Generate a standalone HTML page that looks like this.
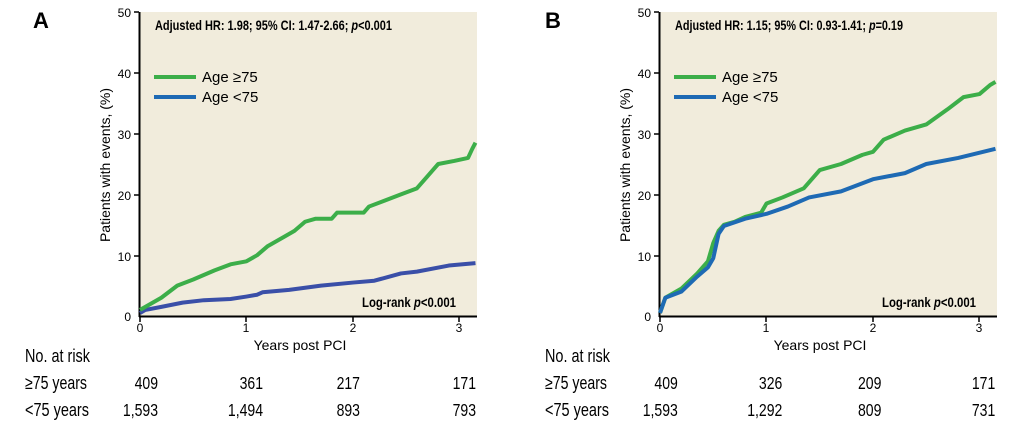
<!DOCTYPE html><html><head><style>body{margin:0;background:#fff}svg{display:block}text{font-family:"Liberation Sans",sans-serif}</style></head><body>
<svg width="1033" height="425" xmlns="http://www.w3.org/2000/svg">
<defs>
<g id="axes">
<rect x="140" y="12" width="337" height="304" fill="#f1ecdc"/>
<line x1="139.5" y1="12" x2="139.5" y2="317" stroke="#000" stroke-width="2"/>
<line x1="139" y1="316.5" x2="477" y2="316.5" stroke="#000" stroke-width="2"/>
<g stroke="#000" stroke-width="1.5">
<line x1="134" y1="12" x2="139" y2="12"/><line x1="134" y1="73" x2="139" y2="73"/><line x1="134" y1="134" x2="139" y2="134"/><line x1="134" y1="195" x2="139" y2="195"/><line x1="134" y1="256" x2="139" y2="256"/>
<line x1="140" y1="317" x2="140" y2="322"/><line x1="246" y1="317" x2="246" y2="322"/><line x1="353" y1="317" x2="353" y2="322"/><line x1="459" y1="317" x2="459" y2="322"/>
</g>
<g font-size="12" text-anchor="end"><text x="131" y="17">50</text><text x="131" y="78">40</text><text x="131" y="139">30</text><text x="131" y="200">20</text><text x="131" y="261">10</text><text x="131" y="321">0</text></g>
<g font-size="12" text-anchor="middle"><text x="140" y="332">0</text><text x="246" y="332">1</text><text x="353" y="332">2</text><text x="459" y="332">3</text></g>
<text x="300" y="350" font-size="14" text-anchor="middle">Years post PCI</text>
<text transform="translate(110,165) rotate(-90)" font-size="14" text-anchor="middle">Patients with events, (%)</text>
<line x1="154" y1="77" x2="196" y2="77" stroke="#3cae49" stroke-width="4"/>
<line x1="154" y1="97" x2="196" y2="97" stroke="#1e6ab4" stroke-width="4"/>
<text x="202" y="82" font-size="15">Age ≥75</text><text x="202" y="102" font-size="15">Age &lt;75</text>
<text x="362" y="307" font-size="14" font-weight="bold" textLength="94" lengthAdjust="spacingAndGlyphs">Log-rank <tspan font-style="italic">p</tspan>&lt;0.001</text>
<text x="25" y="362" font-size="18" textLength="65" lengthAdjust="spacingAndGlyphs">No. at risk</text>
<text x="25" y="389" font-size="18" textLength="62" lengthAdjust="spacingAndGlyphs">≥75 years</text>
<text x="25" y="416" font-size="18" textLength="64" lengthAdjust="spacingAndGlyphs">&lt;75 years</text>
</g>
</defs>
<use href="#axes"/>
<use href="#axes" x="520"/>
<text x="33" y="28" font-size="22" font-weight="bold">A</text>
<text x="545" y="28" font-size="22" font-weight="bold">B</text>
<text x="155" y="30" font-size="14" font-weight="bold" textLength="237" lengthAdjust="spacingAndGlyphs">Adjusted HR: 1.98; 95% CI: 1.47-2.66; <tspan font-style="italic">p</tspan>&lt;0.001</text>
<text x="675" y="30" font-size="14" font-weight="bold" textLength="228" lengthAdjust="spacingAndGlyphs">Adjusted HR: 1.15; 95% CI: 0.93-1.41; <tspan font-style="italic">p</tspan>=0.19</text>
<g font-size="18" text-anchor="end" transform="scale(0.78,1)">
<text x="202.6" y="389">409</text><text x="337.2" y="389">361</text><text x="461.5" y="389">217</text><text x="610.3" y="389">171</text>
<text x="202.6" y="416">1,593</text><text x="337.2" y="416">1,494</text><text x="461.5" y="416">893</text><text x="610.3" y="416">793</text>
<text x="869" y="389">409</text><text x="1003" y="389">326</text><text x="1130" y="389">209</text><text x="1276" y="389">171</text>
<text x="869" y="416">1,593</text><text x="1003" y="416">1,292</text><text x="1130" y="416">809</text><text x="1276" y="416">731</text>
</g>
<g transform="translate(140,316) scale(106.5,-6.08)" fill="none" stroke-width="4" stroke-linejoin="round">
<polyline vector-effect="non-scaling-stroke" stroke="#3a4fa8" points="0,0.5 0.05,1 0.2,1.5 0.4,2.2 0.6,2.6 0.85,2.8 1,3.2 1.1,3.5 1.15,3.9 1.4,4.3 1.7,5 2,5.5 2.2,5.8 2.45,7 2.6,7.3 2.9,8.3 3.15,8.7"/>
<polyline vector-effect="non-scaling-stroke" stroke="#3cae49" points="0,1 0.05,1.5 0.2,3 0.35,5 0.5,6 0.7,7.5 0.85,8.5 1,9 1.1,10 1.2,11.5 1.35,13 1.45,14 1.55,15.5 1.65,16 1.8,16 1.85,17 2.1,17 2.15,18 2.3,19 2.45,20 2.6,21 2.7,23 2.75,24 2.8,25 2.95,25.5 3.08,26 3.12,27.5 3.15,28.5"/>
</g>
<g transform="translate(660,316) scale(106.5,-6.08)" fill="none" stroke-width="4" stroke-linejoin="round">
<polyline vector-effect="non-scaling-stroke" stroke="#3cae49" points="0,0.5 0.05,3 0.2,4.5 0.35,7 0.45,9 0.5,12 0.55,14 0.6,15 0.7,15.5 0.8,16.3 0.95,17 1,18.5 1.15,19.5 1.35,21 1.5,24 1.7,25 1.9,26.5 2,27 2.1,29 2.3,30.5 2.5,31.5 2.7,34 2.85,36 3,36.5 3.1,38 3.15,38.5"/>
<polyline vector-effect="non-scaling-stroke" stroke="#1e6ab4" points="0,0.5 0.05,3 0.2,4 0.35,6.5 0.45,8 0.5,9.5 0.55,13.5 0.6,14.8 0.8,16 1,16.8 1.2,18 1.4,19.5 1.7,20.5 2,22.5 2.3,23.5 2.5,25 2.8,26 3.15,27.5"/>
</g>
</svg>
</body></html>
